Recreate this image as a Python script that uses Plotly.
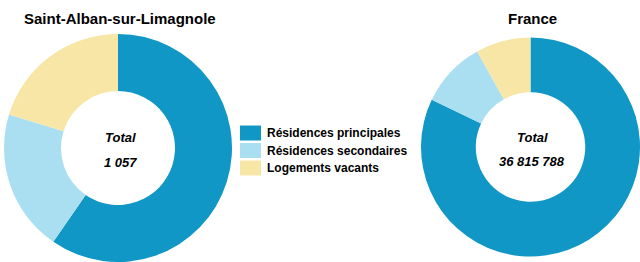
import plotly.graph_objects as go

# ---- data ----
categories = ["Résidences principales", "Résidences secondaires", "Logements vacants"]
colors = ["#1197c6", "#aadff1", "#f7e6a6"]
commune_name = "Saint-Alban-sur-Limagnole"
commune_values = [630, 213, 214]
commune_total = "1 057"
france_name = "France"
france_values = [30226000, 3608000, 2981788]
france_total = "36 815 788"

W, H = 640, 262
FONT = "Liberation Sans, Arial, sans-serif"

def px(x):
    return x / W

def py(y):
    return 1 - y / H

fig = go.Figure()

def add_donut(values, cx, cy, r):
    fig.add_trace(go.Pie(
        labels=categories, values=values, sort=False, direction="clockwise",
        rotation=0, hole=0.5, textinfo="none", hoverinfo="label+value+percent",
        marker=dict(colors=colors, line=dict(width=0)), showlegend=False,
        domain=dict(x=[max(0, px(cx - r)), min(1, px(cx + r))],
                    y=[max(0, py(cy + r)), min(1, py(cy - r))]),
    ))

add_donut(commune_values, 118, 148, 114)
add_donut(france_values, 531, 147, 110)

ann = []
def text(x, y, s, size, italic=False):
    ann.append(dict(x=px(x), y=py(y), xref="paper", yref="paper", text=s,
                    showarrow=False, xanchor="center", yanchor="middle",
                    font=dict(family=FONT, size=size, color="#000000", weight="bold",
                              style="italic" if italic else "normal")))

text(120, 18, commune_name, 15)
text(532, 19, france_name, 15)
text(120, 137, "Total", 13, True)
text(120, 162, commune_total, 13, True)
text(532, 137, "Total", 13, True)
text(532, 161, france_total, 13, True)

shapes = []
rows = [133, 150.5, 168]
for i, name in enumerate(categories):
    yc = rows[i]
    shapes.append(dict(type="rect", xref="paper", yref="paper",
                       x0=px(240), x1=px(261), y0=py(yc + 7.5), y1=py(yc - 7.5),
                       fillcolor=colors[i], line=dict(width=0)))
    ann.append(dict(x=px(265), y=py(yc), xref="paper", yref="paper", text=name,
                    showarrow=False, xanchor="left", yanchor="middle",
                    font=dict(family=FONT, size=12, color="#000000", weight="bold")))

fig.update_layout(
    width=W, height=H, margin=dict(l=0, r=0, t=0, b=0),
    paper_bgcolor="white", plot_bgcolor="white",
    annotations=ann, shapes=shapes, showlegend=False,
)

fig.write_html("out.html", config={"displayModeBar": False},
               post_script="document.body.style.margin='0';document.body.style.overflow='hidden';")
